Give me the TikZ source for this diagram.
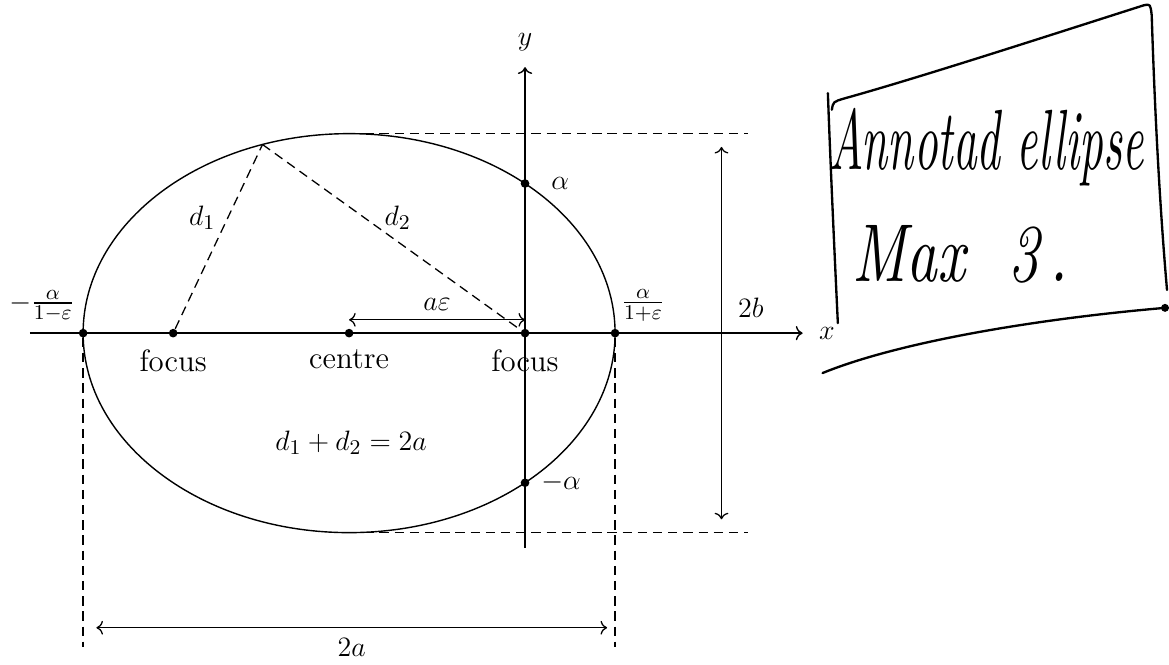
\documentclass[tikz,border=0pt]{standalone}
\usepackage{amsmath,amssymb}
\usepackage{graphicx}
\usepackage{tikz}
\usetikzlibrary{arrows.meta,positioning,calc}
\tikzset{
  curve/.style={line width=.6pt},
  guide/.style={dash pattern=on 4pt off 2.5pt, line width=.55pt},
  axis/.style={->, line width=.6pt},
  span/.style={<->, line width=.55pt},
  dot/.style={circle, fill, minimum size=1.3mm, inner sep=0pt},
  hand/.style={line width=1pt, line cap=round, line join=round},
  handtext/.style={inner sep=0pt, font=\itshape}
}

\begin{document}
\begin{tikzpicture}[x=1cm,y=1cm,font=\fontsize{13.2}{16}\selectfont]
  \useasboundingbox (-5.25,-4.99) rectangle (12.33,5.01);
  \def\ec{2.6458}
  \draw[curve] (0,0) ellipse [x radius=4, y radius=3];

  \coordinate (xs) at (-4.8,0);  \coordinate (xe) at (6.82,0);
  \coordinate (ys) at (\ec,-3.23); \coordinate (ye) at (\ec,4.0);
  \draw[axis] (xs) -- (xe) node[right=1.2mm] {$x$};
  \draw[axis] (ys) -- (ye) node[above=1.2mm] {$y$};

  \node[dot] (lv) at (-4,0) {};
  \node[dot] (f1) at (-\ec,0) {};
  \node[dot] (ctr) at (0,0) {};
  \node[dot] (f2) at (\ec,0) {};
  \node[dot] (rv) at (4,0) {};
  \node[dot] (al) at (\ec,2.25) {};
  \node[dot] (mal) at (\ec,-2.25) {};
  \coordinate (P) at (109:4 and 3);

  \node[below=.5mm of f1] {focus};
  \node[below=.5mm of ctr] {centre};
  \node[below=.5mm of f2] {focus};
  \node[right=2mm of al] {$\alpha$};
  \node[right=.5mm of mal] {$-\alpha$};
  \node at (4.42,.42) {$\frac{\alpha}{1+\varepsilon}$};
  \node at (-4.62,.41) {$-\frac{\alpha}{1-\varepsilon}$};

  \draw[guide] (f1) -- (P);
  \draw[guide] (P) -- (f2);
  \node at (-2.21,1.74) {$d_1$};
  \node at (.73,1.74) {$d_2$};
  \node at (.03,-1.65) {$d_1+d_2=2a$};

  \coordinate (ae1) at (0,.2); \coordinate (ae2) at (\ec,.2);
  \draw[span] (ae1) -- (ae2) node[midway,above=.2mm] {$a\varepsilon$};

  \coordinate (tt) at (0,3);  \coordinate (te) at (6,3);
  \coordinate (bt) at (0,-3); \coordinate (be) at (6,-3);
  \draw[guide] (tt) -- (te);
  \draw[guide] (bt) -- (be);
  \coordinate (bu) at (5.6,2.8); \coordinate (bd) at (5.6,-2.8);
  \draw[span] (bu) -- (bd);
  \node at (6.04,.38) {$2b$};

  \coordinate (lvb) at (-4,-4.72); \coordinate (rvb) at (4,-4.72);
  \draw[guide] (lv) -- (lvb);
  \draw[guide] (rv) -- (rvb);
  \coordinate (aa1) at (-3.8,-4.43); \coordinate (aa2) at (3.88,-4.43);
  \draw[span] (aa1) -- (aa2);
  \node[below=.4mm] at ($(aa1)!.5!(aa2)$) {$2a$};

  \draw[hand] (7.20,3.61) .. controls (7.24,2.5) and (7.30,1.2) .. (7.35,.15);
  \draw[hand] (7.26,3.36) .. controls (7.28,3.48) .. (7.45,3.53)
    .. controls (8.6,3.85) and (10.6,4.5) .. (11.95,4.93)
    .. controls (12.05,4.95) .. (12.07,4.78)
    .. controls (12.12,3.2) and (12.2,1.8) .. (12.3,.65);
  \draw[hand] (7.12,-.6) .. controls (8.3,-.12) and (10.4,.22) .. (12.27,.38);
  \fill (12.27,.38) circle (.06);
  \node[handtext] (hw1) at (9.59,2.8) {\resizebox*{4.72cm}{1.17cm}{Annotad ellipse}};
  \node[handtext] (hw2) at (9.19,1.19) {\resizebox*{3.23cm}{.87cm}{Max\ \ 3\,.}};
\end{tikzpicture}
\end{document}
